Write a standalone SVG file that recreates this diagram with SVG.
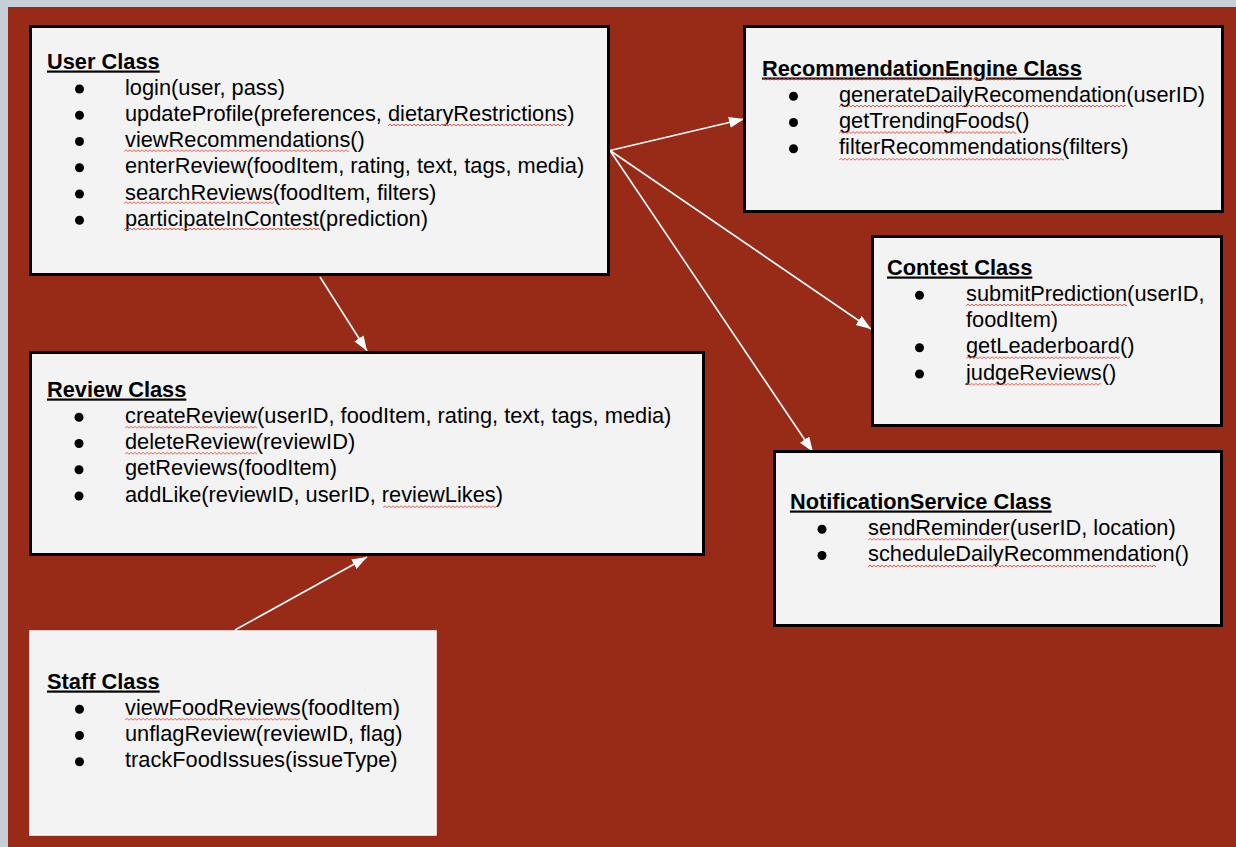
<svg xmlns="http://www.w3.org/2000/svg" xmlns:xlink="http://www.w3.org/1999/xlink" width="1236" height="847" viewBox="0 0 1236 847">
<style>
.box{fill:#f3f3f3;stroke:#000;stroke-width:3}
.staff{fill:#f3f3f3;stroke:#ffffff;stroke-width:1.5}
text{font-family:"Liberation Sans",Arial,sans-serif;font-size:21.8px;fill:#000}
.t{font-weight:bold;text-decoration:underline}
.b{fill:#000}
.c{stroke:#fff;stroke-width:1.6;fill:none;marker-end:url(#ah)}
</style>
<defs>
<marker id="ah" markerUnits="userSpaceOnUse" markerWidth="16" markerHeight="12" refX="15" refY="5.5" orient="auto">
<path d="M0,0 L15,5.5 L0,11 z" fill="#fff"/>
</marker>
<path id="zz" fill="none" stroke="#e0574c" stroke-width="1" d="M0 2.5l2-2 2 2 2-2 2 2 2-2 2 2 2-2 2 2 2-2 2 2 2-2 2 2 2-2 2 2 2-2 2 2 2-2 2 2 2-2 2 2 2-2 2 2 2-2 2 2 2-2 2 2 2-2 2 2 2-2 2 2 2-2 2 2 2-2 2 2 2-2 2 2 2-2 2 2 2-2 2 2 2-2 2 2 2-2 2 2 2-2 2 2 2-2 2 2 2-2 2 2 2-2 2 2 2-2 2 2 2-2 2 2 2-2 2 2 2-2 2 2 2-2 2 2 2-2 2 2 2-2 2 2 2-2 2 2 2-2 2 2 2-2 2 2 2-2 2 2 2-2 2 2 2-2 2 2 2-2 2 2 2-2 2 2 2-2 2 2 2-2 2 2 2-2 2 2 2-2 2 2 2-2 2 2 2-2 2 2 2-2 2 2 2-2 2 2 2-2 2 2 2-2 2 2 2-2 2 2 2-2 2 2 2-2 2 2 2-2 2 2 2-2 2 2 2-2 2 2 2-2 2 2 2-2 2 2 2-2 2 2 2-2 2 2 2-2 2 2 2-2 2 2 2-2 2 2 2-2 2 2 2-2 2 2 2-2 2 2 2-2 2 2 2-2 2 2 2-2 2 2 2-2 2 2 2-2 2 2"/>
</defs>
<rect x="0" y="0" width="1236" height="847" fill="#c7cfd6"/>
<rect x="8" y="7" width="1228" height="840" fill="#982a18"/>

<g id="connectors">
<path class="c" d="M610,150.5 L744,119"/>
<path class="c" d="M610,150.5 L871,329"/>
<path class="c" d="M610,150.5 L813,452"/>
<path class="c" d="M320,277 L367,351"/>
<path class="c" d="M235,630 L367,557"/>
</g>

<g id="user">
<rect class="box" x="30.5" y="26.5" width="578" height="248"/>
<text class="t" x="47" y="68.5">User Class</text>
<circle class="b" cx="79.5" cy="89" r="4.5"/><text x="125" y="94.5">login(user, pass)</text>
<circle class="b" cx="79.5" cy="115.3" r="4.5"/><text x="125" y="120.8">updateProfile(preferences, dietaryRestrictions)</text>
<circle class="b" cx="79.5" cy="141.5" r="4.5"/><text x="125" y="147">viewRecommendations()</text>
<circle class="b" cx="79.5" cy="167.8" r="4.5"/><text x="125" y="173.3">enterReview(foodItem, rating, text, tags, media)</text>
<circle class="b" cx="79.5" cy="194" r="4.5"/><text x="125" y="199.5">searchReviews(foodItem, filters)</text>
<circle class="b" cx="79.5" cy="220.3" r="4.5"/><text x="125" y="225.8">participateInContest(prediction)</text>
<svg x="388" y="123.5" width="176" height="3"><use xlink:href="#zz"/></svg>
<svg x="124" y="149.2" width="225" height="3"><use xlink:href="#zz"/></svg>
<svg x="124" y="201.2" width="150" height="3"><use xlink:href="#zz"/></svg>
<svg x="124" y="227.5" width="196" height="3"><use xlink:href="#zz"/></svg>
</g>

<g id="recommendation">
<rect class="box" x="744.5" y="26.5" width="478" height="185"/>
<text class="t" x="762" y="75.5">RecommendationEngine Class</text>
<circle class="b" cx="793.5" cy="96.3" r="4.5"/><text x="839" y="101.8">generateDailyRecomendation(userID)</text>
<circle class="b" cx="793.5" cy="122.5" r="4.5"/><text x="839" y="128">getTrendingFoods()</text>
<circle class="b" cx="793.5" cy="148.8" r="4.5"/><text x="839" y="154.3">filterRecommendations(filters)</text>
<svg x="762" y="77.8" width="254" height="3"><use xlink:href="#zz"/></svg>
<svg x="839" y="104.5" width="287" height="3"><use xlink:href="#zz"/></svg>
<svg x="839" y="131" width="177" height="3"><use xlink:href="#zz"/></svg>
<svg x="839" y="157.8" width="225" height="3"><use xlink:href="#zz"/></svg>
</g>

<g id="contest">
<rect class="box" x="872.5" y="236.5" width="349" height="189"/>
<text class="t" x="887" y="274.5">Contest Class</text>
<circle class="b" cx="919.5" cy="295.3" r="4.5"/><text x="966" y="300.8">submitPrediction(userID,</text>
<text x="966" y="327">foodItem)</text>
<circle class="b" cx="919.5" cy="347.8" r="4.5"/><text x="966" y="353.3">getLeaderboard()</text>
<circle class="b" cx="919.5" cy="374" r="4.5"/><text x="966" y="379.5">judgeReviews()</text>
<svg x="966" y="303.5" width="161" height="3"><use xlink:href="#zz"/></svg>
<svg x="966" y="356.2" width="154" height="3"><use xlink:href="#zz"/></svg>
<svg x="966" y="382.8" width="135" height="3"><use xlink:href="#zz"/></svg>
</g>

<g id="notification">
<rect class="box" x="774.5" y="451.5" width="447" height="174"/>
<text class="t" x="790" y="508.5">NotificationService Class</text>
<circle class="b" cx="822" cy="529.3" r="4.5"/><text x="868" y="534.8">sendReminder(userID, location)</text>
<circle class="b" cx="822" cy="555.5" r="4.5"/><text x="868" y="561">scheduleDailyRecommendation()</text>
<svg x="868" y="537.8" width="141" height="3"><use xlink:href="#zz"/></svg>
<svg x="868" y="564.5" width="306" height="3"><use xlink:href="#zz"/></svg>
</g>

<g id="review">
<rect class="box" x="30.5" y="352.5" width="673" height="202"/>
<text class="t" x="47" y="396.5">Review Class</text>
<circle class="b" cx="79" cy="417.3" r="4.5"/><text x="125" y="422.8">createReview(userID, foodItem, rating, text, tags, media)</text>
<circle class="b" cx="79" cy="443.5" r="4.5"/><text x="125" y="449">deleteReview(reviewID)</text>
<circle class="b" cx="79" cy="469.8" r="4.5"/><text x="125" y="475.3">getReviews(foodItem)</text>
<circle class="b" cx="79" cy="496" r="4.5"/><text x="125" y="501.5">addLike(reviewID, userID, reviewLikes)</text>
<svg x="125" y="425.8" width="132" height="3"><use xlink:href="#zz"/></svg>
<svg x="125" y="451.8" width="132" height="3"><use xlink:href="#zz"/></svg>
<svg x="383" y="505.2" width="113" height="3"><use xlink:href="#zz"/></svg>
</g>

<g id="staff">
<rect class="staff" x="30" y="631" width="406" height="204"/>
<text class="t" x="47" y="688.5">Staff Class</text>
<circle class="b" cx="79.5" cy="709.3" r="4.5"/><text x="125" y="714.8">viewFoodReviews(foodItem)</text>
<circle class="b" cx="79.5" cy="735.5" r="4.5"/><text x="125" y="741">unflagReview(reviewID, flag)</text>
<circle class="b" cx="79.5" cy="761.8" r="4.5"/><text x="125" y="767.3">trackFoodIssues(issueType)</text>
<svg x="125" y="717.8" width="175" height="3"><use xlink:href="#zz"/></svg>
</g>
</svg>
